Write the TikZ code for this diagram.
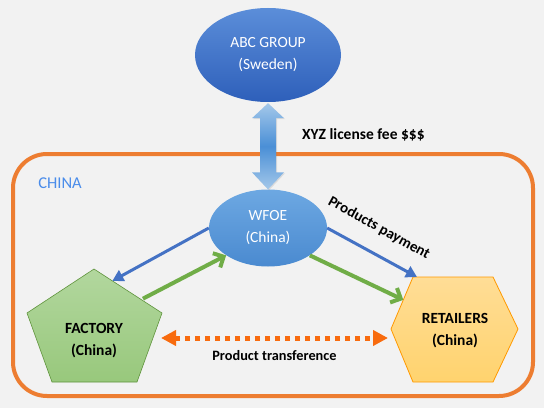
\documentclass[tikz,border=0pt]{standalone}
\usepackage{fontspec}
\setmainfont{Carlito}
\usetikzlibrary{arrows.meta,shapes,positioning,calc,shadows}

\definecolor{bgGrey}{HTML}{F2F2F2}
\definecolor{chinaOrange}{HTML}{ED7D31}
\definecolor{dotOrange}{HTML}{F86B0E}
\definecolor{payBlue}{HTML}{4472C4}
\definecolor{goodsGreen}{HTML}{70AD47}
\definecolor{labelBlue}{HTML}{4A8CEA}
\definecolor{abcTop}{HTML}{5B8ED9}
\definecolor{abcBot}{HTML}{2E5FBA}
\definecolor{wfoeTop}{HTML}{6DA8E2}
\definecolor{wfoeBot}{HTML}{4A8AD0}
\definecolor{feeLight}{HTML}{A4C8EA}
\definecolor{feeDark}{HTML}{4A8FD6}
\definecolor{facTop}{HTML}{B2D79E}
\definecolor{facBot}{HTML}{98C87C}
\definecolor{retTop}{HTML}{FFDD96}
\definecolor{retBot}{HTML}{FFD36E}

\tikzset{
  txt/.style={font=\fontsize{15.5}{22}\selectfont, align=center, inner sep=0pt},
  boldtxt/.style={txt, font=\fontsize{15.5}{22}\selectfont\bfseries},
  pay/.style={payBlue, line width=3pt, -{Triangle[length=11pt,width=12pt]}},
  goods/.style={goodsGreen, line width=4pt, -{Straight Barb[length=8pt,width=16pt]}},
  transfer/.style={dotOrange, line width=5pt, dash pattern=on 5pt off 5pt,
    {Triangle[length=15pt,width=15pt]}-{Triangle[length=15pt,width=15pt]}}
}

\begin{document}
\begin{tikzpicture}[x=1pt,y=1pt]

\useasboundingbox (0,0) rectangle (544,408);
\fill[bgGrey] (0,0) rectangle (544,408);

% china frame
\draw[chinaOrange, line width=4pt, rounded corners=34pt] (13,12) rectangle (533,254);
\node[txt, labelBlue, font=\fontsize{16.5}{20}\selectfont] (china) at (60,225) {CHINA};

% companies
\node[ellipse, minimum width=146pt, minimum height=94pt, top color=abcTop, bottom color=abcBot,
  txt, text=white] (abc) at (268,353) {ABC GROUP\\(Sweden)};
\node[ellipse, minimum width=118pt, minimum height=77pt, top color=wfoeTop, bottom color=wfoeBot,
  txt, text=white] (wfoe) at (268,180) {WFOE\\(China)};

% factory pentagon
\coordinate (ftop) at (94,139);
\coordinate (fleft) at (27,95);
\coordinate (fright) at (162,95);
\coordinate (fbl) at (52,26);
\coordinate (fbr) at (137,26);
\draw[goodsGreen!85!black, line width=0.6pt, top color=facTop, bottom color=facBot]
  (ftop) -- (fright) -- (fbr) -- (fbl) -- (fleft) -- cycle;
\node[boldtxt] (factory) at (94,67) {FACTORY\\(China)};

% retailers hexagon
\coordinate (rleft) at (391,79);
\coordinate (rtl) at (413,131);
\coordinate (rtr) at (493,131);
\coordinate (rright) at (518,79);
\coordinate (rbr) at (493,26);
\coordinate (rbl) at (413,26);
\draw[orange!80!yellow, line width=0.8pt, top color=retTop, bottom color=retBot]
  (rleft) -- (rtl) -- (rtr) -- (rright) -- (rbr) -- (rbl) -- cycle;
\node[boldtxt] (retail) at (455,77) {RETAILERS\\(China)};

% license fee
\path[top color=feeLight, bottom color=feeLight, middle color=feeDark,
  drop shadow={opacity=0.2, shadow xshift=1pt, shadow yshift=-1pt}]
  let \p1=($(abc.south)+(0,-1)$), \p2=(wfoe.north) in
  (\x1,\y1) -- (\x1+16,\y1-15) -- (\x1+8,\y1-15) -- (\x1+8,\y2+17) -- (\x1+16,\y2+17)
  -- (\x2,\y2) -- (\x1-16,\y2+17) -- (\x1-8,\y2+17) -- (\x1-8,\y1-15) -- (\x1-16,\y1-15) -- cycle;
\node[boldtxt, anchor=west] (fee) at (302,273) {XYZ license fee \$\$\$};

% flows
\draw[pay] (wfoe.west) -- ($(ftop)!0.27!(fright)$);
\draw[goods] ($(ftop)!0.72!(fright)+(0,2)$) -- (wfoe.south west);
\draw[pay] (wfoe.east) -- ($(rtl)+(4,0)$);
\draw[goods] (wfoe.south east) -- ($(rleft)!0.56!(rtl)$);
\node[boldtxt, font=\fontsize{15}{20}\selectfont\bfseries, rotate=-29] (payment) at (379,180) {Products payment};

\coordinate (pl) at (161,70);
\coordinate (pr) at (388,70);
\draw[transfer] (pl) -- (pr);
\node[boldtxt, font=\fontsize{14.3}{20}\selectfont\bfseries, below=12pt of $(pl)!0.5!(pr)$]
  (transference) {Product transference};

\end{tikzpicture}
\end{document}
